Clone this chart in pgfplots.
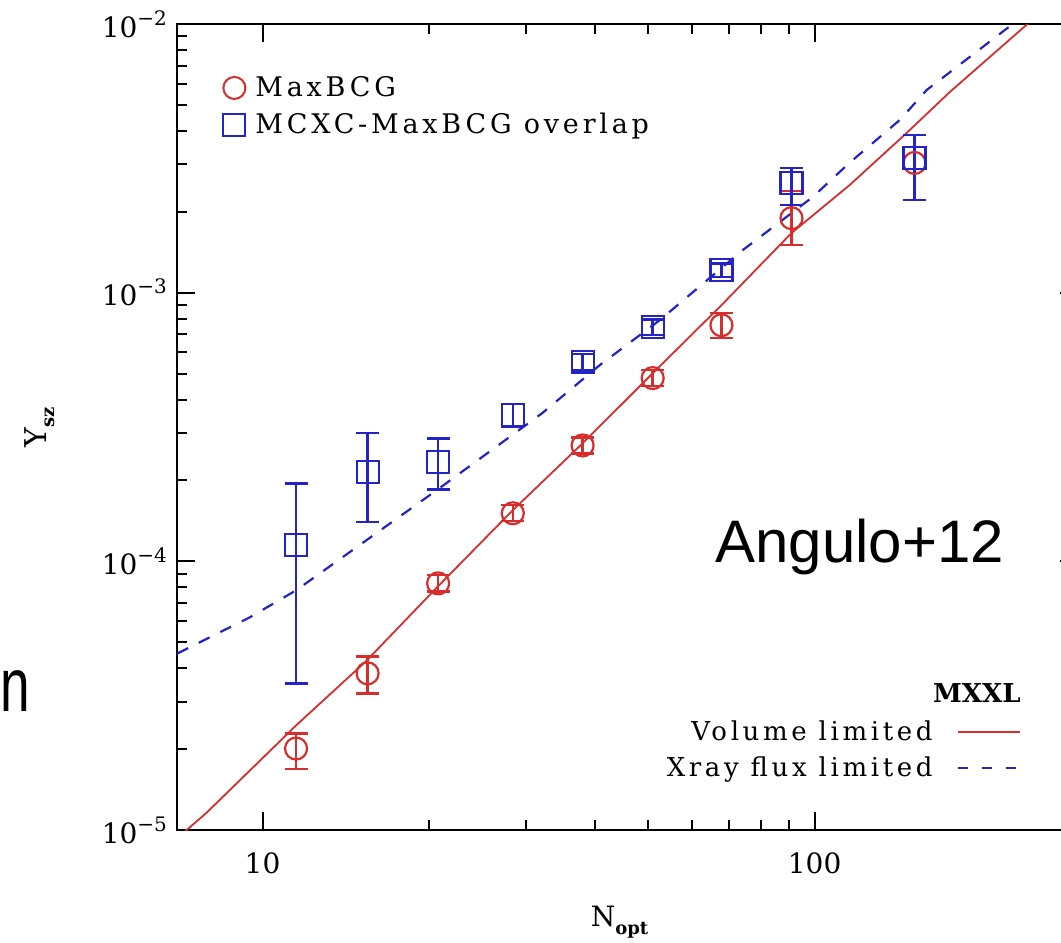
\documentclass[border=0pt]{standalone}
\usepackage{fontspec}
\setmainfont{DejaVu Serif}
\newfontfamily\legfont{DejaVu Serif}[LetterSpace=14]
\newfontfamily\sansfont{Liberation Sans}
\usepackage{pgfplots}
\usepackage{pgfplotstable}
\pgfplotsset{compat=1.18}
\definecolor{mred}{RGB}{215,45,45}
\definecolor{mblue}{RGB}{35,35,200}

\pgfplotstableread{
x y ep em
11.5 2.01e-5 0.28e-5 0.32e-5
15.5 3.83e-5 0.60e-5 0.61e-5
20.8 8.28e-5 0.60e-5 0.55e-5
28.4 1.51e-4 0.11e-4 0.10e-4
38.0 2.70e-4 0.19e-4 0.18e-4
50.9 4.81e-4 0.35e-4 0.32e-4
67.8 7.57e-4 0.82e-4 0.80e-4
90.8 1.894e-3 0.50e-3 0.39e-3
151.7 3.04e-3 0.82e-3 0.83e-3
}\redtab

\pgfplotstableread{
x y ep em
11.5 1.148e-4 0.80e-4 0.797e-4
15.5 2.145e-4 0.855e-4 0.745e-4
20.8 2.34e-4 0.53e-4 0.49e-4
28.4 3.50e-4 0.35e-4 0.32e-4
38.0 5.51e-4 0.40e-4 0.37e-4
50.9 7.44e-4 0.52e-4 0.48e-4
67.8 1.213e-3 0.07e-3 0.07e-3
90.8 2.56e-3 0.35e-3 0.44e-3
151.7 3.17e-3 0.69e-3 0.96e-3
}\bluetab

\pgfplotstableread{
x y
7.0 0.93e-5
7.92 1.16e-5
11.5 2.45e-5
15.4 4.25e-5
20.7 8.0e-5
28.4 1.55e-4
38.0 2.75e-4
50.9 5.01e-4
67.8 8.98e-4
90.8 1.667e-3
115.6 2.51e-3
146.8 3.93e-3
175.7 5.58e-3
243 1.0e-2
270 1.22e-2
}\volline

\pgfplotstableread{
x y
7.01 4.54e-5
9.47 6.18e-5
11.5 7.80e-5
20.66 1.838e-4
32.1 3.56e-4
40.8 5.37e-4
52.4 7.90e-4
74.1 1.44e-3
99.2 2.27e-3
115.6 3.04e-3
142.6 4.39e-3
159.6 5.68e-3
228.4 1.0e-2
256 1.23e-2
}\xrayline

\begin{document}
\begin{tikzpicture}
\begin{loglogaxis}[
  name=main,
  at={(0,0)}, anchor=south west,
  width=450.5pt, height=403pt, scale only axis,
  xmin=7, xmax=300, ymin=1e-5, ymax=1e-2,
  xtick={10,100}, xticklabels={10,100},
  ytick={1e-5,1e-4,1e-3,1e-2},
  yticklabels={
    {10\raisebox{6pt}{\fontsize{10}{10}\selectfont −5}},
    {10\raisebox{6pt}{\fontsize{10}{10}\selectfont −4}},
    {10\raisebox{6pt}{\fontsize{10}{10}\selectfont −3}},
    {10\raisebox{6pt}{\fontsize{10}{10}\selectfont −2}}},
  tick align=inside,
  major tick length=9pt, minor tick length=5pt,
  tick style={black, line width=1pt},
  axis line style={black, line width=1.2pt},
  every tick label/.append style={font=\fontsize{14}{14}\selectfont},
  xticklabel style={yshift=-8pt},
  yticklabel style={xshift=-1.5pt},
  legend style={draw=none, fill=none, at={(rel axis cs:0,1)}, anchor=north west,
    xshift=23pt, yshift=-24pt, font=\legfont\fontsize{13.5}{13.5}\selectfont,
    row sep=3pt, column sep=3pt, inner sep=0pt, nodes={inner sep=2pt, anchor=west}},
  legend cell align=left,
]
\addplot[mred, line width=0.9pt, forget plot] table {\volline};
\addplot[mblue, line width=1.1pt, dash pattern=on 6pt off 6pt, forget plot] table {\xrayline};
\addplot[only marks, mark=o, mark size=5.5pt, mred, line width=1.1pt, forget plot,
  error bars/.cd, y dir=both, y explicit,
  error bar style={mred, line width=1.2pt},
  error mark options={rotate=90, mred, mark size=5.75pt, line width=1.2pt}]
  table[x=x, y=y, y error plus=ep, y error minus=em] {\redtab};
\addplot[only marks, mark=square, mark size=5.5pt, mblue, line width=1.1pt, forget plot,
  error bars/.cd, y dir=both, y explicit,
  error bar style={mblue, line width=1.2pt},
  error mark options={rotate=90, mblue, mark size=5.75pt, line width=1.2pt}]
  table[x=x, y=y, y error plus=ep, y error minus=em] {\bluetab};
\addlegendimage{only marks, mark=o, mark size=5.5pt, mred, line width=1pt}
\addlegendentry{MaxBCG}
\addlegendimage{only marks, mark=square, mark size=5.5pt, mblue, line width=1pt}
\addlegendentry{MCXC-MaxBCG overlap}
\end{loglogaxis}

\begin{axis}[
  at={(main.south west)}, anchor=south west,
  width=450.5pt, height=403pt, scale only axis, hide axis,
  xmin=0, xmax=1, ymin=0, ymax=1,
  legend plot pos=right, legend cell align=right,
  legend image code/.code={\draw[#1] (0pt,0pt) -- (31pt,0pt);},
  legend style={draw=none, fill=none, at={(rel axis cs:1,0)}, anchor=south east,
    xshift=-28.5pt, yshift=23pt, font=\legfont\fontsize{13}{13}\selectfont,
    row sep=2.5pt, column sep=10pt, inner sep=0pt, nodes={inner sep=2pt}},
]
\addlegendimage{mred, line width=1pt}
\addlegendentry{Volume limited}
\addlegendimage{mblue, line width=1pt, dash pattern=on 5pt off 7pt}
\addlegendentry{Xray flux limited}
\end{axis}

\node[anchor=base east, inner sep=0pt, font=\fontsize{13}{13}\selectfont\bfseries]
  at ([xshift=-28.5pt, yshift=63.5pt]main.south east) {MXXL};
\node[anchor=center, inner sep=0pt, font=\fontsize{14}{14}\selectfont]
  at ([xshift=-4pt, yshift=-46pt]main.south) {N\raisebox{-4pt}{\fontsize{9}{9}\selectfont\bfseries opt}};
\node[anchor=center, inner sep=0pt, rotate=90, font=\fontsize{15}{15}\selectfont]
  at ([xshift=-68.5pt]main.west) {Y\raisebox{-4pt}{\fontsize{9}{9}\selectfont\bfseries sz}};
\node[anchor=base west, inner sep=0pt, font=\sansfont\fontsize{30}{30}\selectfont]
  at ([xshift=269pt, yshift=133.5pt]main.south west) {Angulo+12};
\node[anchor=base west, inner sep=0pt, xscale=0.7, font=\sansfont\fontsize{38}{38}\selectfont]
  at ([xshift=-88.5pt, yshift=59pt]main.south west) {n};

\pgfresetboundingbox
\path ([xshift=-88.5pt, yshift=-56.5pt]main.south west) rectangle ([xshift=442pt, yshift=12pt]main.north west);
\end{tikzpicture}
\end{document}
